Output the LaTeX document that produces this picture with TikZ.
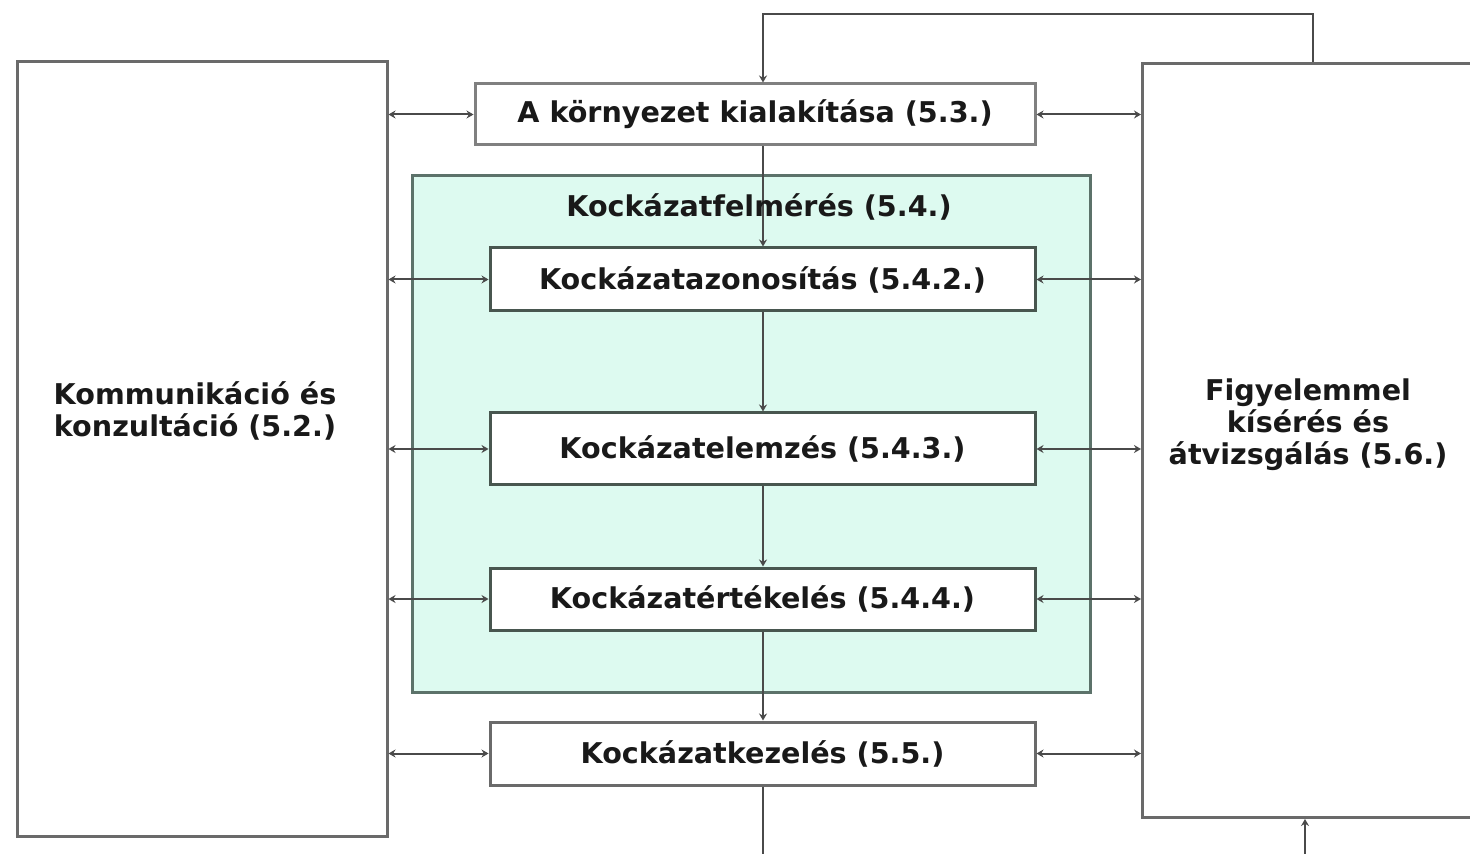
\documentclass[tikz,border=0pt]{standalone}
\usepackage{fontspec}
\setmainfont{DejaVu Sans}
\usetikzlibrary{arrows.meta}
\definecolor{boxline}{HTML}{6A6A6A}
\definecolor{conline}{HTML}{4A4A4A}
\definecolor{greenfill}{HTML}{DDFAF0}
\definecolor{greenline}{HTML}{5C726A}
\definecolor{innerline}{HTML}{48564F}
\tikzset{
  txt/.style={font=\fontsize{14.3}{16}\selectfont\bfseries, text=black!90, align=center},
  bigbox/.style={draw=boxline, line width=1.5pt, fill=white, inner sep=0pt},
  procbox/.style={draw=innerline, line width=1.5pt, fill=white, inner sep=0pt, minimum width=272.5pt, txt},
  conn/.style={draw=conline, line width=1pt, -{Stealth[length=3.5pt,width=4pt]}},
  biconn/.style={draw=conline, line width=1pt, {Stealth[length=3.5pt,width=4pt]}-{Stealth[length=3.5pt,width=4pt]}}
}
\begin{document}
\begin{tikzpicture}[x=0.5pt,y=-0.5pt]
\useasboundingbox (0,0) rectangle (1470,854);
\fill[white] (0,0) rectangle (1470,854);
% big side boxes
\node[bigbox, minimum width=185pt, minimum height=387pt] (comm) at (202,449) {};
\node[bigbox, minimum width=172pt, minimum height=377pt, anchor=north west] (mon) at (1141,62) {};
\node[txt] (commtxt) at (195,411) {Kommunikáció és\\konzultáció (5.2.)};
\node[txt] (montxt) at (1308,425) {Figyelemmel\\kísérés és\\átvizsgálás (5.6.)};
% green assessment region
\node[draw=greenline, line width=1.5pt, fill=greenfill, minimum width=339pt, minimum height=258pt, inner sep=0pt] (assess) at (751,434) {};
% top box
\node[procbox, draw=boxline!85, minimum width=280pt, minimum height=30.5pt] (ctx) at (755,114.5) {A környezet kialakítása (5.3.)};
% inner process boxes
\node[procbox, minimum height=31.5pt] (ident) at (762.5,279.5) {Kockázatazonosítás (5.4.2.)};
\node[procbox, minimum height=36pt] (anal) at (762.5,449) {Kockázatelemzés (5.4.3.)};
\node[procbox, minimum height=31pt] (eval) at (762.5,599) {Kockázatértékelés (5.4.4.)};
\node[procbox, draw=boxline, minimum height=31.5pt] (treat) at (762.5,753.5) {Kockázatkezelés (5.5.)};
% coordinates
\coordinate (spine) at (763,0);
\coordinate (looptop) at (763,14);
\coordinate (loopbot) at (763,880);
\coordinate (monin) at ([xshift=86pt]mon.north west);
\coordinate (monout) at ([xshift=82pt]mon.south west);
% vertical flow
\draw[conn] (spine |- ctx.south) -- (spine |- ident.north);
\node[txt] (assesstitle) at (759,207) {Kockázatfelmérés (5.4.)};
\draw[conn] (spine |- ident.south) -- (spine |- anal.north);
\draw[conn] (spine |- anal.south) -- (spine |- eval.north);
\draw[conn] (spine |- eval.south) -- (spine |- treat.north);
% top loop from monitoring to context
\draw[conn] (monin) |- (looptop) -- (spine |- ctx.north);
% bottom loop from treatment to monitoring
\draw[conn] (spine |- treat.south) -- (loopbot) -| (monout);
% communication connectors
\foreach \b in {ctx,ident,anal,eval,treat}{
  \draw[biconn] (comm.east |- \b.west) -- (\b.west);
  \draw[biconn] (\b.east) -- (mon.west |- \b.east);
}
\end{tikzpicture}
\end{document}
